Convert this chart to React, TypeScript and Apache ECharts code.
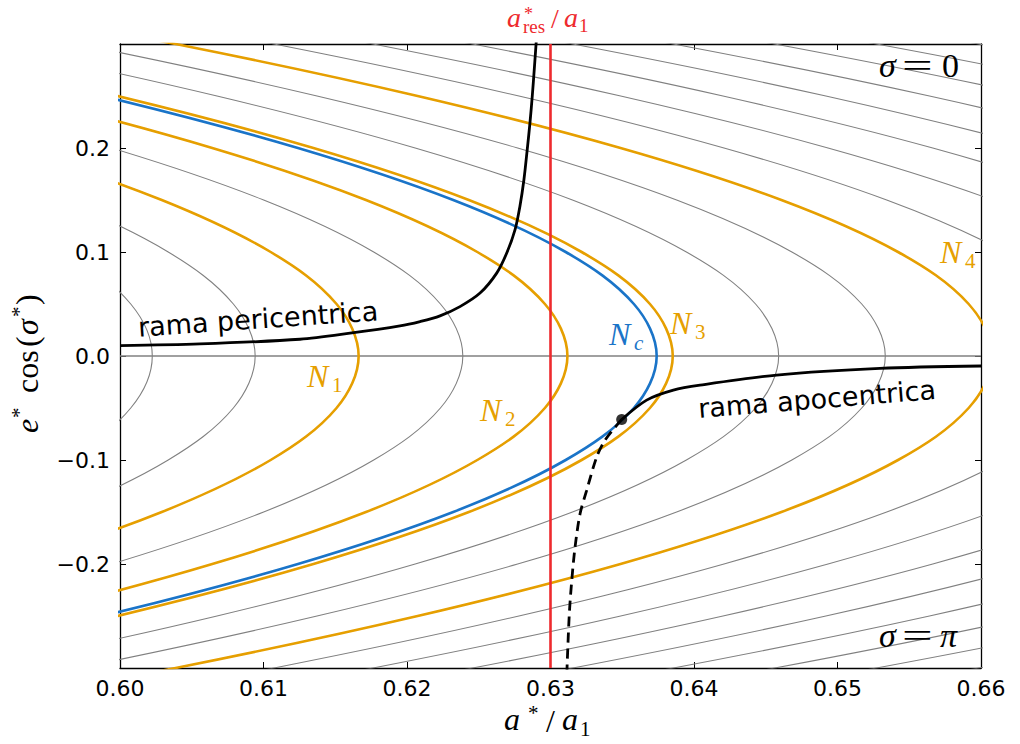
import React, { useEffect, useRef } from "react";
import * as echarts from "echarts";

// ---- axes ----
const X_MIN = 0.6;
const X_MAX = 0.66;
const X_STEP = 0.01;
const Y_MIN = -0.3;
const Y_MAX = 0.3;
const Y_STEP = 0.1;
const A_RES = 0.63;

// ---- level curves: a*/a1 at |e cos σ| = E_HALF[k] ----
const E_HALF = [0, 0.05, 0.1, 0.15, 0.2, 0.25, 0.3, 0.35];
const CONTOUR_A = [
  [0.60225, 0.60075, 0.59626, 0.58885, 0.57864, 0.56575, 0.55038, 0.53273],
  [0.60942, 0.6079, 0.60336, 0.59586, 0.58552, 0.57249, 0.55693, 0.53907],
  [0.61663, 0.61509, 0.6105, 0.60291, 0.59245, 0.57926, 0.56352, 0.54545],
  [0.62389, 0.62233, 0.61768, 0.61001, 0.59942, 0.58608, 0.57015, 0.55187],
  [0.63118, 0.62961, 0.6249, 0.61714, 0.60643, 0.59293, 0.57682, 0.55832],
  [0.63852, 0.63693, 0.63217, 0.62431, 0.61348, 0.59982, 0.58353, 0.56481],
  [0.6459, 0.64429, 0.63947, 0.63153, 0.62057, 0.60676, 0.59027, 0.57134],
  [0.65333, 0.65169, 0.64682, 0.63879, 0.62771, 0.61373, 0.59706, 0.57791],
  [0.66079, 0.65914, 0.65422, 0.64609, 0.63488, 0.62074, 0.60388, 0.58451],
  [0.6683, 0.66663, 0.66165, 0.65343, 0.64209, 0.6278, 0.61074, 0.59115],
  [0.67585, 0.67416, 0.66912, 0.66081, 0.64934, 0.63489, 0.61764, 0.59783],
  [0.68344, 0.68173, 0.67664, 0.66823, 0.65664, 0.64202, 0.62458, 0.60455],
  [0.69108, 0.68935, 0.6842, 0.6757, 0.66398, 0.64919, 0.63156, 0.6113],
  [0.69875, 0.69701, 0.6918, 0.68321, 0.67135, 0.65641, 0.63857, 0.61809],
  [0.70647, 0.70471, 0.69944, 0.69076, 0.67877, 0.66366, 0.64563, 0.62492],
  [0.71424, 0.71245, 0.70713, 0.69834, 0.68623, 0.67095, 0.65272, 0.63179],
  [0.72204, 0.72024, 0.71486, 0.70598, 0.69373, 0.67828, 0.65985, 0.63869],
];
const ORANGE_IDX = [2, 4, 5, 8]; // N1, N2, N3, N4
const NC_A = [0.6374, 0.63581, 0.63106, 0.62322, 0.6124, 0.59877, 0.5825, 0.56382];

// ---- branches of fixed points ----
const PERI_A = [0.6, 0.60557, 0.61254, 0.61603, 0.61951, 0.62091, 0.6223, 0.62369, 0.62509, 0.62625, 0.62695, 0.62753, 0.62787, 0.62815, 0.62838, 0.62857, 0.62873, 0.62887, 0.62902];
const PERI_E = [0.0099, 0.0116, 0.0161, 0.0219, 0.0289, 0.0331, 0.0386, 0.0475, 0.0605, 0.0797, 0.099, 0.1215, 0.144, 0.1697, 0.1987, 0.2244, 0.25, 0.2758, 0.305];
const APO_A = [0.63496, 0.6367, 0.63856, 0.64042, 0.64576, 0.65296, 0.66];
const APO_E = [-0.061, -0.0424, -0.0328, -0.028, -0.0183, -0.0119, -0.0096];
const UNST_A = [0.63496, 0.6338, 0.63322, 0.63252, 0.63206, 0.63171, 0.63148, 0.63131, 0.63117, 0.63114];
const UNST_E = [-0.061, -0.081, -0.0971, -0.1292, -0.1517, -0.1839, -0.216, -0.2481, -0.2932, -0.305];
const BIF_POINT = [0.63496, -0.061];

const GRAY = "#808080";
const ORANGE = "#e69f00";
const BLUE = "#1a74c8";
const RED = "#ee2a2e";
const MATH = "'Liberation Serif', 'DejaVu Serif', serif";
const SANS = "'DejaVu Sans', sans-serif";

const curve = (aList: number[]) => {
  const lower = aList.map((a, i) => [a, -E_HALF[i]]).slice(1).reverse();
  const upper = aList.map((a, i) => [a, E_HALF[i]]);
  return [...lower, ...upper];
};
const zip = (xs: number[], ys: number[]) => xs.map((x, i) => [x, ys[i]]);

function mt(x: number, base: number, text: string, size: number, italic: boolean, color: string, extra: any = {}) {
  return {
    type: "text",
    x,
    y: base - 0.34 * size,
    z: 100,
    ...extra,
    style: {
      text,
      fontSize: size,
      fontFamily: MATH,
      fontStyle: italic ? "italic" : "normal",
      fill: color,
      align: "left",
      textAlign: "left",
      verticalAlign: "middle",
      textVerticalAlign: "middle",
    },
  };
}

function nLabel(x: number, base: number, sub: string, color: string, subItalic = false) {
  return [mt(x, base, "N", 32, true, color), mt(x + 25, base + 5, sub, 21, subItalic, color)];
}

export default function App() {
  const ref = useRef<HTMLDivElement>(null);
  useEffect(() => {
    if (!ref.current) return;
    const chart = echarts.init(ref.current, undefined, { renderer: "svg" });

    const series: any[] = [];
    CONTOUR_A.forEach((a) => {
      series.push({ type: "line", data: curve(a), showSymbol: false, smooth: 0.35, lineStyle: { color: GRAY, width: 1.1 }, z: 2, silent: true });
    });
    series.push({ type: "line", data: [[X_MIN, 0], [X_MAX, 0]], showSymbol: false, lineStyle: { color: GRAY, width: 1.3 }, z: 2, silent: true });
    ORANGE_IDX.forEach((k) => {
      series.push({ type: "line", data: curve(CONTOUR_A[k]), showSymbol: false, smooth: 0.35, lineStyle: { color: ORANGE, width: 2.6 }, z: 3, silent: true });
    });
    series.push({ type: "line", data: curve(NC_A), showSymbol: false, smooth: 0.35, lineStyle: { color: BLUE, width: 2.6 }, z: 4, silent: true });
    series.push({ type: "line", data: [[A_RES, Y_MIN], [A_RES, Y_MAX]], showSymbol: false, lineStyle: { color: RED, width: 2.6 }, z: 5, silent: true });
    series.push({ type: "line", data: zip(PERI_A, PERI_E), showSymbol: false, smooth: 0.3, lineStyle: { color: "#000", width: 2.8 }, z: 6, silent: true });
    series.push({ type: "line", data: zip(APO_A, APO_E), showSymbol: false, smooth: 0.3, lineStyle: { color: "#000", width: 2.8 }, z: 6, silent: true });
    series.push({ type: "line", data: zip(UNST_A, UNST_E), showSymbol: false, smooth: 0.3, lineStyle: { color: "#000", width: 2.8, type: [10, 6] }, z: 6, silent: true });
    series.push({ type: "scatter", data: [BIF_POINT], symbolSize: 11, itemStyle: { color: "#000" }, z: 7, silent: true });

    const tickLabel = { color: "#000", fontFamily: SANS, fontSize: 22 };
    const baseX = {
      type: "value", min: X_MIN, max: X_MAX, interval: X_STEP,
      axisLine: { onZero: false, lineStyle: { color: "#000", width: 1.3 } },
      axisTick: { inside: true, length: 6, lineStyle: { color: "#000", width: 1 } },
      splitLine: { show: false },
    };
    const baseY = {
      type: "value", min: Y_MIN, max: Y_MAX, interval: Y_STEP,
      axisLine: { onZero: false, lineStyle: { color: "#000", width: 1.3 } },
      axisTick: { inside: true, length: 6, lineStyle: { color: "#000", width: 1 } },
      splitLine: { show: false },
    };

    const graphics: any[] = [
      // top red label a*_res / a1
      mt(507, 27, "a", 28, true, RED),
      mt(524, 20, "*", 18, false, RED),
      mt(523, 33, "res", 19, false, RED),
      mt(551, 28, "/", 28, false, RED),
      mt(564, 27, "a", 28, true, RED),
      mt(579, 32, "1", 19, false, RED),
      // sigma labels
      mt(879, 77, "σ", 34, true, "#000"),
      mt(902, 77, "=", 34, false, "#000", { scaleX: 1.6 }),
      mt(942, 77, "0", 34, false, "#000"),
      mt(879, 647, "σ", 34, true, "#000"),
      mt(902, 647, "=", 34, false, "#000", { scaleX: 1.6 }),
      mt(940, 647, "π", 34, true, "#000"),
      // N labels
      ...nLabel(307, 387, "1", ORANGE),
      ...nLabel(480, 421, "2", ORANGE),
      ...nLabel(609, 345, "c", BLUE, true),
      ...nLabel(670, 334, "3", ORANGE),
      ...nLabel(940, 263, "4", ORANGE),
      // x axis title a*/a1
      mt(504, 730, "a", 32, true, "#000"),
      mt(528, 720, "*", 21, false, "#000"),
      mt(546, 732, "/", 32, false, "#000"),
      mt(562, 730, "a", 32, true, "#000"),
      mt(580, 736, "1", 21, false, "#000"),
      // y axis title e* cos(σ*)
      {
        type: "group", x: 38, y: 433, rotation: Math.PI / 2,
        children: [
          mt(0, 0, "e", 32, true, "#000"),
          mt(15, -12, "*", 21, false, "#000"),
          mt(40, 0, "cos", 32, false, "#000"),
          mt(86, 0, "(", 32, false, "#000"),
          mt(98, 0, "σ", 32, true, "#000"),
          mt(116, -12, "*", 21, false, "#000"),
          mt(128, 0, ")", 32, false, "#000"),
        ],
      },
      // branch labels
      {
        type: "text", x: 258, y: 319, rotation: 0.068, z: 100,
        style: { text: "rama pericentrica", fontSize: 27, fontFamily: SANS, fill: "#000", align: "center", textAlign: "center", verticalAlign: "middle", textVerticalAlign: "middle" },
      },
      {
        type: "text", x: 817, y: 399, rotation: 0.08, z: 100,
        style: { text: "rama apocentrica", fontSize: 27, fontFamily: SANS, fill: "#000", align: "center", textAlign: "center", verticalAlign: "middle", textVerticalAlign: "middle" },
      },
    ];

    chart.setOption({
      animation: false,
      backgroundColor: "#fff",
      grid: { left: 120, top: 44, right: 39, bottom: 76, containLabel: false },
      xAxis: [
        { ...baseX, position: "bottom", axisLabel: { ...tickLabel, margin: 9, formatter: (v: number) => v.toFixed(2) } },
        { ...baseX, position: "top", axisLabel: { show: false } },
      ],
      yAxis: [
        {
          ...baseY, position: "left",
          axisLabel: {
            ...tickLabel, margin: 10, showMinLabel: false, showMaxLabel: false,
            formatter: (v: number) => (Math.abs(v) < 1e-9 ? "0.0" : v < 0 ? "\u2212" + (-v).toFixed(1) : v.toFixed(1)),
          },
        },
        { ...baseY, position: "right", axisLabel: { show: false } },
      ],
      series,
      graphic: graphics,
    });
    return () => chart.dispose();
  }, []);
  return <div ref={ref} style={{ position: "fixed", left: 0, top: 0, width: 1020, height: 744 }} />;
}
